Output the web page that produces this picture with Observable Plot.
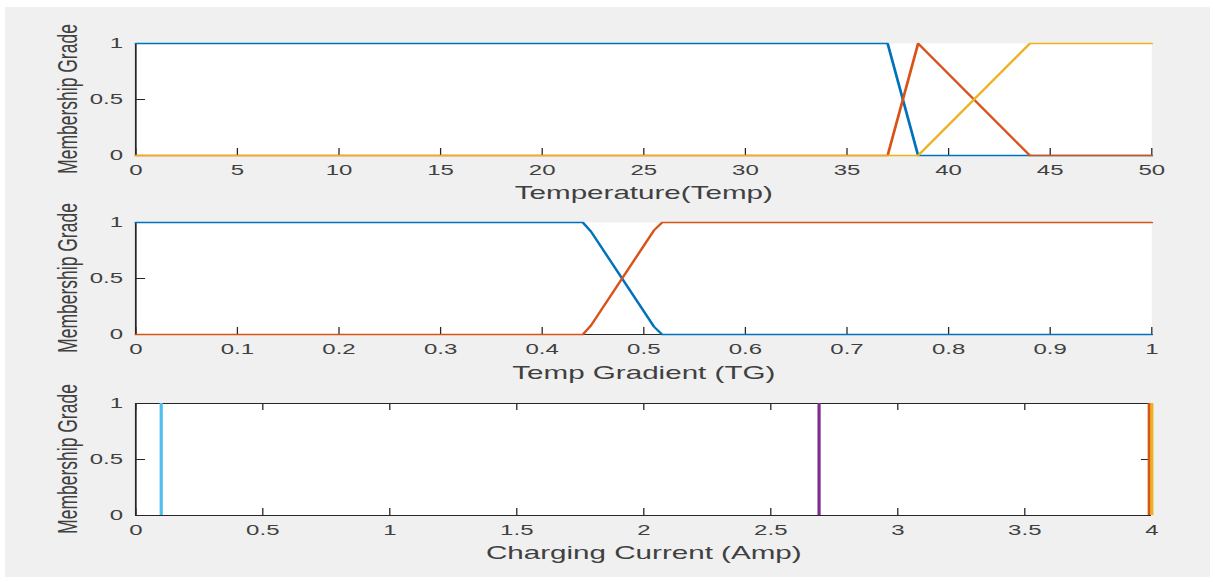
<!DOCTYPE html>
<html><head><meta charset="utf-8">
<script src="https://cdn.jsdelivr.net/npm/d3@7"></script>
<script src="https://cdn.jsdelivr.net/npm/@observablehq/plot@0.6"></script>
<style>
html,body{margin:0;padding:0;background:#fff;}
#wrap{position:relative;width:1215px;height:582px;overflow:hidden;background:#fff;}
#bg{position:absolute;left:5px;top:7px;width:1205px;height:570px;background:#f0f0f0;}
.ylab{position:absolute;white-space:nowrap;font-family:'Liberation Sans',Arial,sans-serif;font-size:17.5px;color:#404040;
  line-height:1;transform-origin:50% 50%;transform:translate(-50%,-50%) rotate(-90deg) scaleY(1.6);}
</style></head><body><div id="wrap"><div id="bg"></div></div>
<script>
// ---- data ----
const yTicks = [0, 0.5, 1];
const yLabel = "Membership Grade";

const tempTicks = [0, 5, 10, 15, 20, 25, 30, 35, 40, 45, 50];
const tempLabel = "Temperature(Temp)";
const tempLowX = [0, 37, 38.5, 50];
const tempLowY = [1, 1, 0, 0];
const tempMedX = [0, 37, 38.5, 44, 50];
const tempMedY = [0, 0, 1, 0, 0];
const tempHighX = [0, 38.5, 44, 50];
const tempHighY = [0, 0, 1, 1];

const tgTicks = [0, 0.1, 0.2, 0.3, 0.4, 0.5, 0.6, 0.7, 0.8, 0.9, 1];
const tgLabel = "Temp Gradient (TG)";
const tgLowX = [0, 0.44, 0.448, 0.51, 0.518, 1];
const tgLowY = [1, 1, 0.92, 0.07, 0, 0];
const tgHighX = [0, 0.44, 0.448, 0.51, 0.518, 1];
const tgHighY = [0, 0, 0.08, 0.93, 1, 1];

const curTicks = [0, 0.5, 1, 1.5, 2, 2.5, 3, 3.5, 4];
const curLabel = "Charging Current (Amp)";
const curX = [0.1, 2.69, 3.99, 4.0];
const curColors = ["#4DBEEE", "#7E2F8E", "#D95319", "#EDB120"];

const C = {blue: "#0072BD", orange: "#D95319", yellow: "#EDB120"};

// ---- layout ----
const SX = 1.6;               // horizontal stretch of the reference figure
const W = 1215, IW = W / SX;
const ML = 135 / SX, MR = (1215 - 1151) / SX;
const AX = "#262626", TXT = "#404040";
const wrap = document.getElementById("wrap");

function pts(xs, ys) { return xs.map((x, i) => ({x, y: ys[i]})); }

function panel({top, height, mt, mb, domain, ticks, label, marks, box, labelDy}) {
  const plotH = height - mt - mb;
  const plotW = IW - ML - MR;
  const tl = 7, tlY = 6.3;
  const m = [
    Plot.frame({fill: "white", stroke: "none"}),
    Plot.ruleX([domain[0]], {stroke: AX, strokeWidth: 1.1}),
    Plot.ruleY([0], {stroke: AX, strokeWidth: 1.1}),
    Plot.tickX(ticks, {x: d => d, insetTop: plotH - tl, stroke: AX, strokeWidth: 0.8}),
    Plot.tickY(yTicks, {y: d => d, insetRight: plotW - tlY, stroke: AX, strokeWidth: 1}),
  ];
  if (box) {
    m.push(Plot.ruleX([domain[1]], {stroke: AX, strokeWidth: 1.1}));
    m.push(Plot.ruleY([1], {stroke: AX, strokeWidth: 1.1}));
    m.push(Plot.tickX(ticks, {x: d => d, insetBottom: plotH - tl, stroke: AX, strokeWidth: 0.8}));
    m.push(Plot.tickY(yTicks, {y: d => d, insetLeft: plotW - tlY, stroke: AX, strokeWidth: 1}));
  }
  m.push(...marks);
  m.push(Plot.axisX({ticks, tickSize: 0, tickPadding: 9, tickFormat: d => String(d), fontSize: 15, fill: TXT, label: null}));
  m.push(Plot.axisY({ticks: yTicks, tickSize: 0, tickPadding: 8, tickFormat: d => String(d), fontSize: 15, fill: TXT, label: null}));
  m.push(Plot.text([label], {text: d => d, frameAnchor: "bottom", dy: labelDy, fontSize: 18.5, fill: TXT}));

  const svg = Plot.plot({
    width: IW, height,
    marginTop: mt, marginBottom: mb, marginLeft: ML, marginRight: MR,
    x: {domain},
    y: {domain: [0, 1]},
    style: {fontFamily: "'Liberation Sans', Arial, sans-serif", background: "transparent", overflow: "visible"},
    marks: m
  });
  svg.setAttribute("viewBox", `0 0 ${IW} ${height}`);
  svg.setAttribute("preserveAspectRatio", "none");
  svg.setAttribute("width", W);
  svg.setAttribute("height", height);
  Object.assign(svg.style, {position: "absolute", left: "0px", top: top + "px", width: W + "px",
    height: height + "px", maxWidth: "none", background: "transparent"});
  wrap.appendChild(svg);

  const yl = document.createElement("div");
  yl.className = "ylab";
  yl.textContent = yLabel;
  yl.style.left = "69px";
  yl.style.top = (top + mt + plotH / 2) + "px";
  wrap.appendChild(yl);
}

const LW = 1.7;
panel({top: 0, height: 200, mt: 43, mb: 45, domain: [0, 50], ticks: tempTicks, label: tempLabel, box: false, labelDy: 43,
  marks: [
    Plot.line(pts(tempLowX, tempLowY), {x: "x", y: "y", stroke: C.blue, strokeWidth: LW}),
    Plot.line(pts(tempMedX, tempMedY), {x: "x", y: "y", stroke: C.orange, strokeWidth: LW}),
    Plot.line(pts(tempHighX, tempHighY), {x: "x", y: "y", stroke: C.yellow, strokeWidth: LW}),
  ]});

panel({top: 200, height: 185, mt: 22, mb: 51, domain: [0, 1], ticks: tgTicks, label: tgLabel, box: false, labelDy: 44,
  marks: [
    Plot.line(pts(tgLowX, tgLowY), {x: "x", y: "y", stroke: C.blue, strokeWidth: LW}),
    Plot.line(pts(tgHighX, tgHighY), {x: "x", y: "y", stroke: C.orange, strokeWidth: LW}),
  ]});

panel({top: 385, height: 197, mt: 18, mb: 67, domain: [0, 4], ticks: curTicks, label: curLabel, box: true, labelDy: 43,
  marks: curX.map((v, i) => Plot.ruleX([v], {x: d => d, y1: 0, y2: 1, stroke: curColors[i], strokeWidth: 2}))
});
</script></body></html>
